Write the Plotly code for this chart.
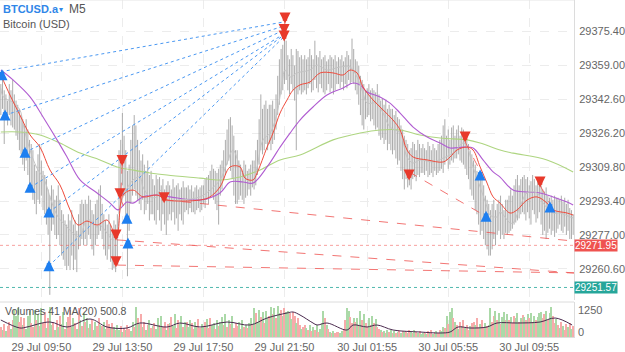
import plotly.graph_objects as go

N_BARS = 340

bar_high = [
    29350, 29352, 29347, 29345, 29342, 29350, 29347, 29352, 29345, 29342,
    29340, 29338, 29335, 29333, 29330, 29333, 29328, 29323, 29321, 29318,
    29311, 29308, 29316, 29321, 29313, 29308, 29306, 29304, 29299, 29296,
    29301, 29299, 29294, 29296, 29301, 29294, 29289, 29287, 29284, 29282,
    29287, 29284, 29289, 29282, 29284, 29279, 29287, 29292, 29294, 29292,
    29294, 29292, 29296, 29294, 29289, 29287, 29292, 29294, 29299, 29301,
    29292, 29287, 29284, 29282, 29287, 29282, 29279, 29284, 29282, 29287,
    29318, 29323, 29336, 29325, 29318, 29308, 29311, 29323, 29330, 29335,
    29330, 29323, 29318, 29313, 29316, 29311, 29308, 29313, 29306, 29308,
    29304, 29301, 29306, 29304, 29305, 29301, 29304, 29299, 29301, 29303,
    29301, 29299, 29304, 29300, 29301, 29302, 29299, 29300, 29303, 29300,
    29300, 29301, 29299, 29301, 29298, 29300, 29301, 29299, 29300, 29301,
    29301, 29304, 29305, 29306, 29308, 29311, 29309, 29308, 29307, 29309,
    29311, 29313, 29318, 29323, 29328, 29333, 29334, 29330, 29325, 29318,
    29318, 29313, 29311, 29308, 29313, 29311, 29308, 29309, 29311, 29313,
    29313, 29318, 29323, 29333, 29345, 29338, 29340, 29342, 29338, 29340,
    29340, 29342, 29338, 29345, 29354, 29362, 29367, 29369, 29372, 29371,
    29364, 29362, 29367, 29364, 29359, 29367, 29366, 29363, 29364, 29362,
    29364, 29362, 29363, 29367, 29364, 29362, 29371, 29364, 29363, 29366,
    29362, 29363, 29364, 29361, 29362, 29364, 29363, 29362, 29364, 29361,
    29363, 29362, 29364, 29361, 29363, 29366, 29364, 29362, 29372, 29367,
    29362, 29361, 29359, 29354, 29352, 29350, 29347, 29348, 29350, 29347,
    29348, 29347, 29346, 29350, 29345, 29342, 29343, 29340, 29342, 29338,
    29340, 29338, 29338, 29335, 29337, 29334, 29333, 29330, 29328, 29325,
    29323, 29321, 29318, 29319, 29322, 29321, 29318, 29323, 29321, 29319,
    29321, 29319, 29318, 29322, 29320, 29318, 29321, 29319, 29318, 29321,
    29323, 29325, 29330, 29333, 29325, 29328, 29323, 29329, 29330, 29325,
    29328, 29330, 29325, 29329, 29328, 29325, 29323, 29321, 29318, 29316,
    29313, 29311, 29308, 29306, 29304, 29305, 29301, 29296, 29294, 29292,
    29289, 29292, 29294, 29289, 29292, 29294, 29296, 29292, 29289, 29294,
    29294, 29296, 29299, 29296, 29301, 29304, 29306, 29301, 29304, 29305,
    29306, 29304, 29305, 29301, 29303, 29306, 29304, 29301, 29305, 29302,
    29301, 29299, 29298, 29300, 29296, 29295, 29296, 29294, 29296, 29295,
    29295, 29294, 29296, 29293, 29295, 29292, 29294, 29290, 29289, 29287,
]

bar_low = [
    29335, 29338, 29321, 29333, 29330, 29335, 29330, 29329, 29328, 29325,
    29323, 29318, 29316, 29311, 29308, 29313, 29306, 29301, 29299, 29294,
    29292, 29287, 29294, 29292, 29296, 29289, 29287, 29282, 29277, 29248,
    29279, 29282, 29277, 29275, 29277, 29272, 29267, 29265, 29262, 29260,
    29262, 29260, 29267, 29260, 29265, 29259, 29270, 29272, 29275, 29272,
    29275, 29272, 29277, 29275, 29270, 29267, 29272, 29275, 29277, 29279,
    29275, 29270, 29267, 29265, 29270, 29264, 29260, 29261, 29259, 29265,
    29287, 29292, 29301, 29296, 29284, 29257, 29279, 29292, 29296, 29299,
    29296, 29294, 29292, 29289, 29294, 29287, 29289, 29292, 29284, 29287,
    29287, 29284, 29282, 29289, 29284, 29279, 29287, 29282, 29277, 29284,
    29287, 29284, 29288, 29282, 29285, 29279, 29287, 29284, 29282, 29288,
    29289, 29287, 29290, 29288, 29288, 29287, 29289, 29290, 29288, 29289,
    29292, 29290, 29294, 29292, 29295, 29296, 29294, 29292, 29289, 29282,
    29296, 29299, 29304, 29306, 29311, 29313, 29308, 29304, 29296, 29292,
    29292, 29294, 29296, 29294, 29292, 29295, 29296, 29299, 29296, 29300,
    29299, 29301, 29306, 29311, 29318, 29316, 29318, 29321, 29318, 29321,
    29318, 29321, 29323, 29328, 29335, 29340, 29345, 29347, 29350, 29352,
    29347, 29345, 29350, 29347, 29342, 29318, 29345, 29347, 29345, 29346,
    29347, 29345, 29348, 29350, 29346, 29347, 29352, 29348, 29346, 29350,
    29348, 29346, 29345, 29347, 29350, 29346, 29348, 29345, 29347, 29350,
    29350, 29348, 29351, 29347, 29350, 29348, 29352, 29350, 29351, 29350,
    29347, 29345, 29340, 29335, 29330, 29328, 29333, 29334, 29335, 29332,
    29333, 29330, 29328, 29329, 29325, 29323, 29324, 29321, 29323, 29318,
    29321, 29318, 29316, 29318, 29314, 29311, 29313, 29308, 29304, 29299,
    29304, 29300, 29301, 29299, 29304, 29305, 29303, 29306, 29305, 29307,
    29307, 29306, 29308, 29305, 29306, 29307, 29305, 29308, 29306, 29307,
    29308, 29309, 29307, 29311, 29313, 29309, 29311, 29313, 29312, 29314,
    29314, 29316, 29313, 29312, 29311, 29309, 29306, 29304, 29299, 29296,
    29294, 29289, 29287, 29282, 29277, 29279, 29275, 29272, 29270, 29267,
    29267, 29270, 29275, 29272, 29277, 29279, 29275, 29277, 29275, 29278,
    29277, 29278, 29279, 29280, 29282, 29283, 29284, 29285, 29287, 29288,
    29287, 29284, 29288, 29285, 29282, 29289, 29287, 29283, 29285, 29288,
    29282, 29277, 29279, 29275, 29278, 29280, 29277, 29279, 29276, 29278,
    29280, 29282, 29279, 29278, 29281, 29277, 29279, 29275, 29275, 29277,
]

volume = [
    420, 300, 560, 250, 480, 620, 350, 700, 1150, 900,
    1200, 640, 820, 500, 780, 350, 900, 1100, 600, 420,
    1150, 700, 950, 450, 1200, 600, 1050, 380, 800, 1250,
    500, 650, 300, 720, 400, 900, 560, 1050, 350, 640,
    820, 1150, 420, 780, 600, 350, 1200, 700, 480, 1000,
    650, 800, 380, 560, 700, 300, 620, 450, 780, 500,
    480, 650, 350, 700, 560, 380, 600, 420, 300, 520,
    300, 450, 200, 380, 280, 520, 350, 240, 620, 400,
    1250, 800, 560, 950, 400, 650, 300, 500, 720, 380,
    450, 600, 350, 780, 520, 900, 400, 650, 300, 560,
    600, 820, 450, 950, 380, 700, 560, 900, 420, 650,
    650, 400, 720, 580, 350, 620, 480, 750, 380, 560,
    420, 650, 750, 380, 780, 520, 600, 350, 700, 480,
    620, 850, 500, 950, 420, 700, 560, 880, 380, 600,
    480, 620, 350, 700, 400, 520, 380, 600, 780, 500,
    1200, 1000, 650, 1150, 850, 1050, 600, 1100, 780, 900,
    1250, 950, 1200, 800, 1300, 1000, 1150, 880, 1200, 1050,
    1100, 1000, 750, 1050, 900, 600, 800, 500, 350, 420,
    500, 380, 300, 520, 250, 420, 300, 500, 200, 350,
    600, 1080, 780, 500, 350, 200, 150, 250, 180, 220,
    200, 150, 250, 300, 700, 1200, 1100, 850, 600, 780,
    650, 800, 500, 1100, 720, 950, 600, 420, 780, 500,
    880, 600, 750, 420, 350, 300, 200, 250, 150, 280,
    200, 300, 150, 250, 180, 220, 300, 160, 240, 200,
    250, 180, 300, 200, 150, 280, 220, 180, 250, 120,
    150, 200, 120, 250, 180, 300, 140, 200, 250, 180,
    300, 250, 420, 380, 900, 550, 1050, 1200, 800, 650,
    500, 350, 620, 450, 700, 380, 520, 300, 450, 600,
    650, 500, 800, 420, 560, 700, 380, 600, 450, 520,
    1200, 650, 900, 1100, 720, 1000, 550, 820, 1050, 700,
    950, 700, 850, 600, 900, 780, 1000, 650, 800, 920,
    850, 700, 950, 780, 1000, 650, 900, 720, 820, 1000,
    1050, 800, 950, 1100, 700, 1000, 1250, 900, 600, 750,
    500, 380, 620, 450, 300, 550, 400, 600, 350, 480,
]

volume_dir = ("rgrgrrgrgg" "grrgrgggrr" "grgrgrrgrg" "grgrgrggrg" "rrggrgrgrg"
              "rgrgrggrrg" "rggrrgrgrg" "grgrgrrggr" "grgrgrgrgr" "grggrgrrgr"
              "grggrrggrg" "rggrrggrrg" "grgrrggrgr" "ggrgrgrgrr" "rgrgrgrggr"
              "grggrgrggr" "grgrggrgrg" "grgrrgrrgr" "rgrgrgrgrg" "ggrgrgrgrr"
              "rggrrggrrg" "rgrgrgrrgr" "grgrrgrgrg" "rgrgrgrgrg" "rgrgrgrgrg"
              "grgrgrgrgr" "rggrgrggrg" "rgrgrgrrgr" "rgrrgrrgrg" "grrgrgrggr"
              "grgrrggrgr" "grgrgrgrgg" "grrgrggrrg" "rgrgrrgrgr")

# smoothed close (thin grey line)
fast_idx = [0, 1.3, 7.2, 11.3, 13.1, 15.5, 18.5, 22, 25, 27.3, 30.3, 33.9, 39.2, 42.7, 46.9,
            49.9, 52.8, 57, 58.7, 62.9, 66.4, 68.8, 70.6, 72.4, 78.3, 82.4, 84.2, 88.4, 92.5,
            94.3, 98.4, 106.1, 118, 123.9, 129.8, 134, 137.5, 141.7, 145.8, 149.4, 151.8,
            155.3, 159.5, 163.6, 166.6, 168.3, 171.3, 175.4, 183.1, 187.3, 193.2, 200.9,
            206.8, 211, 214.5, 216.9, 222.8, 226.4, 230.5, 236.5, 240.6, 244.2, 248.3, 256,
            262, 267.9, 273.8, 276.2, 279.7, 283.9, 288, 289.8, 294, 295.7, 301.6, 303.4,
            307.5, 311.7, 317.6, 321.2, 327.1, 331.3, 337.2, 339]
fast_val = [29348, 29344, 29341, 29337.5, 29331, 29323, 29315, 29308.4, 29305, 29300.2,
            29292.4, 29285.7, 29280.8, 29277.9, 29276, 29282.8, 29284.2, 29280.8, 29281.8,
            29277.9, 29274.5, 29277.9, 29289.1, 29295.4, 29303.6, 29305, 29300.2, 29295.4,
            29295.4, 29298.7, 29293.9, 29293.9, 29295.4, 29298.7, 29303.6, 29311.8, 29318.1,
            29309.9, 29303.6, 29303.6, 29309.9, 29323, 29326.3, 29336, 29350.5, 29356.8,
            29353.4, 29355.4, 29356.8, 29359.2, 29356.8, 29358.3, 29358.3, 29353.4, 29345.7,
            29340.8, 29340.8, 29336, 29329.2, 29326.3, 29314.7, 29311.8, 29313.3, 29312.3,
            29314.2, 29316.6, 29321.5, 29319.5, 29309.9, 29300.2, 29290.5, 29286.6, 29285.7,
            29288.1, 29282.8, 29282.8, 29290.5, 29297.3, 29297.3, 29292.4, 29287.6, 29287.6,
            29285.7, 29285.2]

red_idx = [0, 5.4, 11.3, 17.3, 23.2, 29.1, 35, 41, 45.7, 51, 57, 62.9, 66.4, 68.8, 72.4, 78.3,
           84.2, 92.5, 98.4, 118, 123.9, 129.8, 135.8, 141.7, 144.6, 149.4, 151.8, 157.7,
           161.2, 165.4, 169.5, 173.1, 177.2, 183.1, 189.1, 196.8, 202.7, 206.8, 211, 214.5,
           220.5, 226.4, 232.3, 236.5, 240.6, 244.2, 252.5, 262, 266.1, 270.2, 276.2, 279.7,
           283.9, 288, 291.6, 295.7, 301.6, 305.8, 311.7, 317.6, 323.5, 327.1, 335.4, 339]
red_val = [29354.4, 29344.7, 29335, 29325.4, 29319.5, 29308.4, 29301.2, 29289.1, 29281.8,
           29283.7, 29281.8, 29284.2, 29279.4, 29277, 29296.3, 29298.7, 29295.4, 29296.3,
           29293.9, 29293.9, 29295.4, 29300.2, 29309.9, 29309.9, 29304.5, 29303.6, 29307,
           29319.5, 29326.3, 29336, 29342.3, 29347.1, 29349.6, 29351, 29355.4, 29355.4,
           29354.4, 29356.8, 29355.4, 29348.6, 29342.3, 29337.5, 29332.6, 29327.8, 29318.1,
           29314.7, 29313.3, 29312.3, 29314.7, 29318.1, 29319.5, 29318.1, 29309.9, 29302.1,
           29295.4, 29292.4, 29287.6, 29289.1, 29293.9, 29295.4, 29292.4, 29289.1, 29287.6,
           29286.6]

purple_idx = [0, 7.2, 17.3, 25, 33.3, 39.2, 46.9, 57, 64.7, 69.4, 74.7, 78.3, 84.2, 92.5,
              100.2, 118, 129.8, 135.8, 143.5, 149.4, 157.7, 165.4, 171.3, 177.2, 184.9,
              193.2, 202.7, 208.6, 212.8, 216.9, 224.6, 230.5, 236.5, 244.2, 252.5, 260.2,
              266.1, 273.8, 279.7, 285.6, 291.6, 295.7, 303.4, 311.7, 319.4, 327.1, 335.4, 339]
purple_val = [29356.8, 29352, 29343.8, 29334.1, 29323, 29314.7, 29303.6, 29297.3, 29292.4,
              29289.1, 29292.9, 29292.4, 29295.4, 29296.3, 29295.4, 29293.9, 29297.3, 29302.6,
              29302.6, 29302.1, 29309.9, 29319.5, 29326.3, 29332.6, 29338.9, 29344.7, 29348.1,
              29350.5, 29349.6, 29346.2, 29343.8, 29340.8, 29336, 29329.2, 29324.4, 29321.5,
              29319.1, 29319.5, 29319.1, 29313.3, 29307.5, 29305, 29298.7, 29297.8, 29297.3,
              29295.4, 29292.9, 29291.5]

green_idx = [0, 11.3, 23.2, 35, 46.9, 58.7, 68.8, 78.3, 88.4, 98.4, 118, 129.8, 141.7, 153.5,
             165.4, 177.2, 196.8, 212.8, 224.6, 236.5, 248.3, 260.2, 276.2, 283.9, 295.7,
             303.4, 323.5, 339]
green_val = [29326.8, 29326.8, 29325.4, 29321.5, 29316.6, 29313.3, 29309.9, 29308.4, 29307,
             29306, 29304.5, 29303.6, 29305, 29308.4, 29313.3, 29315.7, 29323, 29326.3,
             29327.8, 29327.8, 29325.4, 29323.9, 29323, 29321.5, 29318.1, 29316.6, 29313.3,
             29307.5]

vma_idx = [0, 11.3, 15.5, 29.1, 39.2, 52.8, 62.9, 74.7, 82.4, 98.4, 106.1, 118, 134, 147.6,
           157.7, 169.5, 173.1, 177.2, 184.9, 187.3, 193.2, 205.1, 208.6, 216.9, 222.8, 232.3,
           248.3, 260.2, 266.1, 270.8, 277.9, 288, 293.9, 305.8, 319.4, 328.3, 338.4]
vma_val = [714, 378, 420, 630, 420, 756, 420, 378, 588, 420, 588, 420, 630, 504, 798, 1008,
           1050, 924, 588, 504, 588, 294, 504, 420, 504, 294, 210, 168, 210, 420, 378, 420, 588,
           588, 630, 798, 504]

buy_idx = [0.7, 2.5, 14.3, 17.3, 28.5, 28.5, 74.7, 75.3, 283.9, 287.4, 325.3]
buy_px = [29354.5, 29335, 29317, 29300, 29288, 29262, 29285, 29273, 29306, 29286, 29290.5]
sell_idx = [168.3, 167.8, 167.8, 71.8, 70.6, 68.2, 68.2, 96.7, 241.8, 275, 319.4]
sell_px = [29382, 29376.5, 29373.3, 29313, 29297, 29277, 29264, 29295, 29306, 29324.4, 29302.6]

# closed trades joining a buy to the sell cluster (blue dotted)
blue_x0 = [0, 2.5, 14.3, 17.3, 28.5, 28.5]
blue_y0 = [29356, 29335, 29317, 29300, 29288, 29262]
blue_x1 = [167.2, 167.2, 167.2, 167.2, 167.2, 167.2]
blue_y1 = [29380, 29378, 29376, 29374, 29373.5, 29372.5]

# red dashed trade lines
red_x0 = [96.7, 68.8, 68.8, 241.8, 275, 319.4, 71.8, 70.6, 168.3]
red_y0 = [29294, 29274.6, 29262.4, 29307.5, 29322, 29301, 29311, 29295, 29380]
red_x1 = [339.5, 339.5, 339.5, 287.4, 283.9, 325.3, 71.2, 74.7, 167.8]
red_y1 = [29274, 29258.6, 29258.6, 29286, 29308, 29292, 29299, 29287, 29376]

price_ticks = [29260.60, 29277.00, 29293.40, 29309.80, 29326.20, 29342.60, 29359.00, 29375.40]
bid_price = 29271.95
ask_price = 29251.57

time_idx = [24, 72, 120, 168, 217, 265, 313]
time_lbl = ["29 Jul 09:50", "29 Jul 13:50", "29 Jul 17:50", "29 Jul 21:50",
            "30 Jul 01:55", "30 Jul 05:55", "30 Jul 09:55"]

FONT = "Liberation Sans"
fig = go.Figure()

# grey bars
bx, by = [], []
for i, (h, l) in enumerate(zip(bar_high, bar_low)):
    bx += [i, i, None]
    by += [l, h, None]
fig.add_trace(go.Scatter(x=bx, y=by, mode="lines", line=dict(color="#a3a3a3", width=0.9),
                         hoverinfo="skip", yaxis="y"))

# price lines
fig.add_trace(go.Scatter(x=[-0.5, N_BARS - 0.5], y=[bid_price, bid_price], mode="lines",
                         line=dict(color="rgba(239,83,80,0.55)", width=1, dash="dot"), yaxis="y"))
fig.add_trace(go.Scatter(x=[-0.5, N_BARS - 0.5], y=[ask_price, ask_price], mode="lines",
                         line=dict(color="rgba(38,166,154,0.8)", width=1, dash="dot"), yaxis="y"))

# moving averages
fig.add_trace(go.Scatter(x=green_idx, y=green_val, mode="lines", line=dict(color="#aed581", width=1.1, shape="spline"), yaxis="y"))
fig.add_trace(go.Scatter(x=purple_idx, y=purple_val, mode="lines", line=dict(color="#b05cd1", width=1.1, shape="spline"), yaxis="y"))
fig.add_trace(go.Scatter(x=fast_idx, y=fast_val, mode="lines", line=dict(color="#c4c4c4", width=1, shape="spline"), yaxis="y"))
fig.add_trace(go.Scatter(x=red_idx, y=red_val, mode="lines", line=dict(color="#ef4b3c", width=1, shape="spline"), yaxis="y"))

# trade lines
for x0, y0, x1, y1 in zip(blue_x0, blue_y0, blue_x1, blue_y1):
    fig.add_trace(go.Scatter(x=[x0, x1], y=[y0, y1], mode="lines",
                             line=dict(color="#4a98f2", width=1, dash="dot"), yaxis="y"))
for x0, y0, x1, y1 in zip(red_x0, red_y0, red_x1, red_y1):
    fig.add_trace(go.Scatter(x=[x0, x1], y=[y0, y1], mode="lines",
                             line=dict(color="rgba(239,83,80,0.8)", width=1, dash="dash"), yaxis="y"))

# volume
vcol = ["#abd9a8" if d == "g" else "#f7abab" for d in volume_dir]
fig.add_trace(go.Bar(x=list(range(N_BARS)), y=volume, marker=dict(color=vcol, line=dict(width=0)),
                     width=0.6, yaxis="y2"))
fig.add_trace(go.Scatter(x=vma_idx, y=vma_val, mode="lines", line=dict(color="#4b2b4f", width=1, shape="spline"),
                         yaxis="y2"))

grid_col = "#ececec"
fig.update_layout(
    width=625, height=352, margin=dict(l=0, r=51, t=0, b=15),
    paper_bgcolor="white", plot_bgcolor="white", showlegend=False, bargap=0,
    font=dict(family=FONT, size=11, color="#666"),
    xaxis=dict(range=[-0.5, N_BARS - 0.5], tickvals=time_idx, ticktext=time_lbl, anchor="y2",
               showgrid=True, gridcolor=grid_col, griddash="dash", zeroline=False,
               showline=True, linecolor="#dcdcdc", ticks="", tickfont=dict(size=11, color="#666"),
               fixedrange=True),
    yaxis=dict(domain=[37 / 337, 1], range=[29245.5, 29390.7], side="right",
               tickvals=price_ticks, ticktext=["%.2f" % v for v in price_ticks],
               showgrid=True, gridcolor=grid_col, griddash="dash", zeroline=False,
               showline=True, linecolor="#dcdcdc", ticks="", tickfont=dict(size=11, color="#666"),
               ticklabelstandoff=2),
    yaxis2=dict(domain=[0, 35 / 337], range=[0, 1470], side="right", showticklabels=False,
                showgrid=False, zeroline=False, showline=True, linecolor="#dcdcdc", ticks=""),
)

# trade arrows (block arrows: tip and tail both placed in data units)
AH = 2.7
for xi, p in zip(buy_idx, buy_px):
    fig.add_annotation(x=xi, y=p + AH, ax=xi, ay=p - AH, xref="x", yref="y", axref="x", ayref="y",
                       text="", showarrow=True, arrowhead=2, arrowsize=0.5, arrowwidth=4.4,
                       arrowcolor="#1e7ff0", standoff=0, startstandoff=0)
for xi, p in zip(sell_idx, sell_px):
    fig.add_annotation(x=xi, y=p - AH, ax=xi, ay=p + AH, xref="x", yref="y", axref="x", ayref="y",
                       text="", showarrow=True, arrowhead=2, arrowsize=0.5, arrowwidth=4.4,
                       arrowcolor="#e8392b", standoff=0, startstandoff=0)

# panel separators
fig.add_shape(type="line", xref="paper", yref="paper", x0=0, x1=1, y0=35 / 337, y1=35 / 337,
              line=dict(color="#dcdcdc", width=1))
fig.add_shape(type="line", xref="paper", yref="paper", x0=0, x1=1, y0=1, y1=1,
              line=dict(color="#e6e6e6", width=1))

ann = [
    dict(x=0.002, y=1 - 9 / 337, text="<b>BTCUSD.a</b>", font=dict(size=11, color="#2f86e8")),
    dict(x=0.1, y=1 - 9 / 337, text="▾", font=dict(size=8, color="#2f86e8")),
    dict(x=0.116, y=1 - 9 / 337, text="M5", font=dict(size=12, color="#555")),
    dict(x=0.002, y=1 - 24 / 337, text="Bitcoin (USD)", font=dict(size=11, color="#555")),
    dict(x=0.006, y=(337 - 311) / 337, text="Volumes 41 MA(20) 500.8", font=dict(size=10.5, color="#555")),
    dict(x=1.004, y=(337 - 310) / 337, text="1250", font=dict(size=11, color="#666")),
    dict(x=1.004, y=(337 - 332) / 337, text="0", font=dict(size=11, color="#666")),
]
for a in ann:
    fig.add_annotation(xref="paper", yref="paper", xanchor="left", yanchor="middle",
                       showarrow=False, **a)

for p, c in [(bid_price, "#ef5350"), (ask_price, "#26a69a")]:
    fig.add_annotation(xref="paper", yref="y", x=1.0, y=p, xanchor="left", yanchor="middle",
                       text="%.2f" % p, showarrow=False, bgcolor=c, borderpad=0,
                       font=dict(size=10, color="white"))

fig.write_html("out.html")
